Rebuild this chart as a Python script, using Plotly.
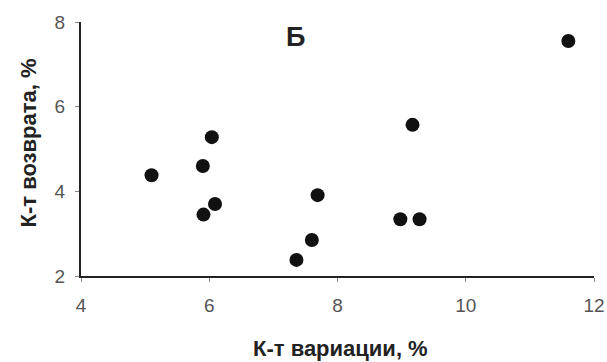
import plotly.graph_objects as go

# Data
variation = [5.10, 5.90, 6.04, 5.91, 6.09, 7.36, 7.60, 7.69, 8.98, 9.28, 9.17, 11.60]
returns   = [4.38, 4.60, 5.28, 3.45, 3.70, 2.38, 2.85, 3.91, 3.34, 3.34, 5.57, 7.55]

x_ticks = [4, 6, 8, 10, 12]
y_ticks = [2, 4, 6, 8]

panel_label = "Б"
x_title = "К-т вариации, %"
y_title = "К-т возврата, %"

FONT = "Liberation Sans, Arial, sans-serif"

fig = go.Figure()
fig.add_trace(go.Scatter(
    x=variation, y=returns, mode="markers",
    marker=dict(color="#111111", size=14, line=dict(width=0)),
    showlegend=False, hoverinfo="x+y",
))

axis_common = dict(
    showgrid=False, zeroline=False, showline=True,
    linecolor="#222222", linewidth=2,
    ticks="outside", ticklen=4, tickwidth=1, tickcolor="#888888",
    tickfont=dict(family=FONT, size=19, color="#555555"),
    mirror=False, automargin=False,
)

fig.update_xaxes(range=[4, 12], tickvals=x_ticks, ticklabelstandoff=7, **axis_common)
fig.update_yaxes(range=[2, 8], tickvals=y_ticks, ticklabelstandoff=6, **axis_common)

fig.update_layout(
    width=607, height=362,
    margin=dict(l=81, r=13, t=22, b=86),
    paper_bgcolor="white", plot_bgcolor="white",
    font=dict(family=FONT),
    annotations=[
        dict(text="<b>" + panel_label + "</b>", xref="paper", yref="paper",
             x=0.419, y=0.941, xanchor="center", yanchor="middle",
             showarrow=False, font=dict(family=FONT, size=27, color="#222222")),
        dict(text="<b>" + x_title + "</b>", xref="paper", yref="paper",
             x=0.505, y=0, yshift=-72, xanchor="center", yanchor="middle",
             showarrow=False, font=dict(family=FONT, size=22, color="#222222")),
        dict(text="<b>" + y_title + "</b>", xref="paper", yref="paper",
             x=0, xshift=-53, y=0.522, xanchor="center", yanchor="middle",
             textangle=-90, showarrow=False,
             font=dict(family=FONT, size=22, color="#222222")),
    ],
)

fig.write_html(
    "out.html",
    config={"displayModeBar": False},
    post_script="document.body.style.margin='0';document.body.style.overflow='hidden';",
)
